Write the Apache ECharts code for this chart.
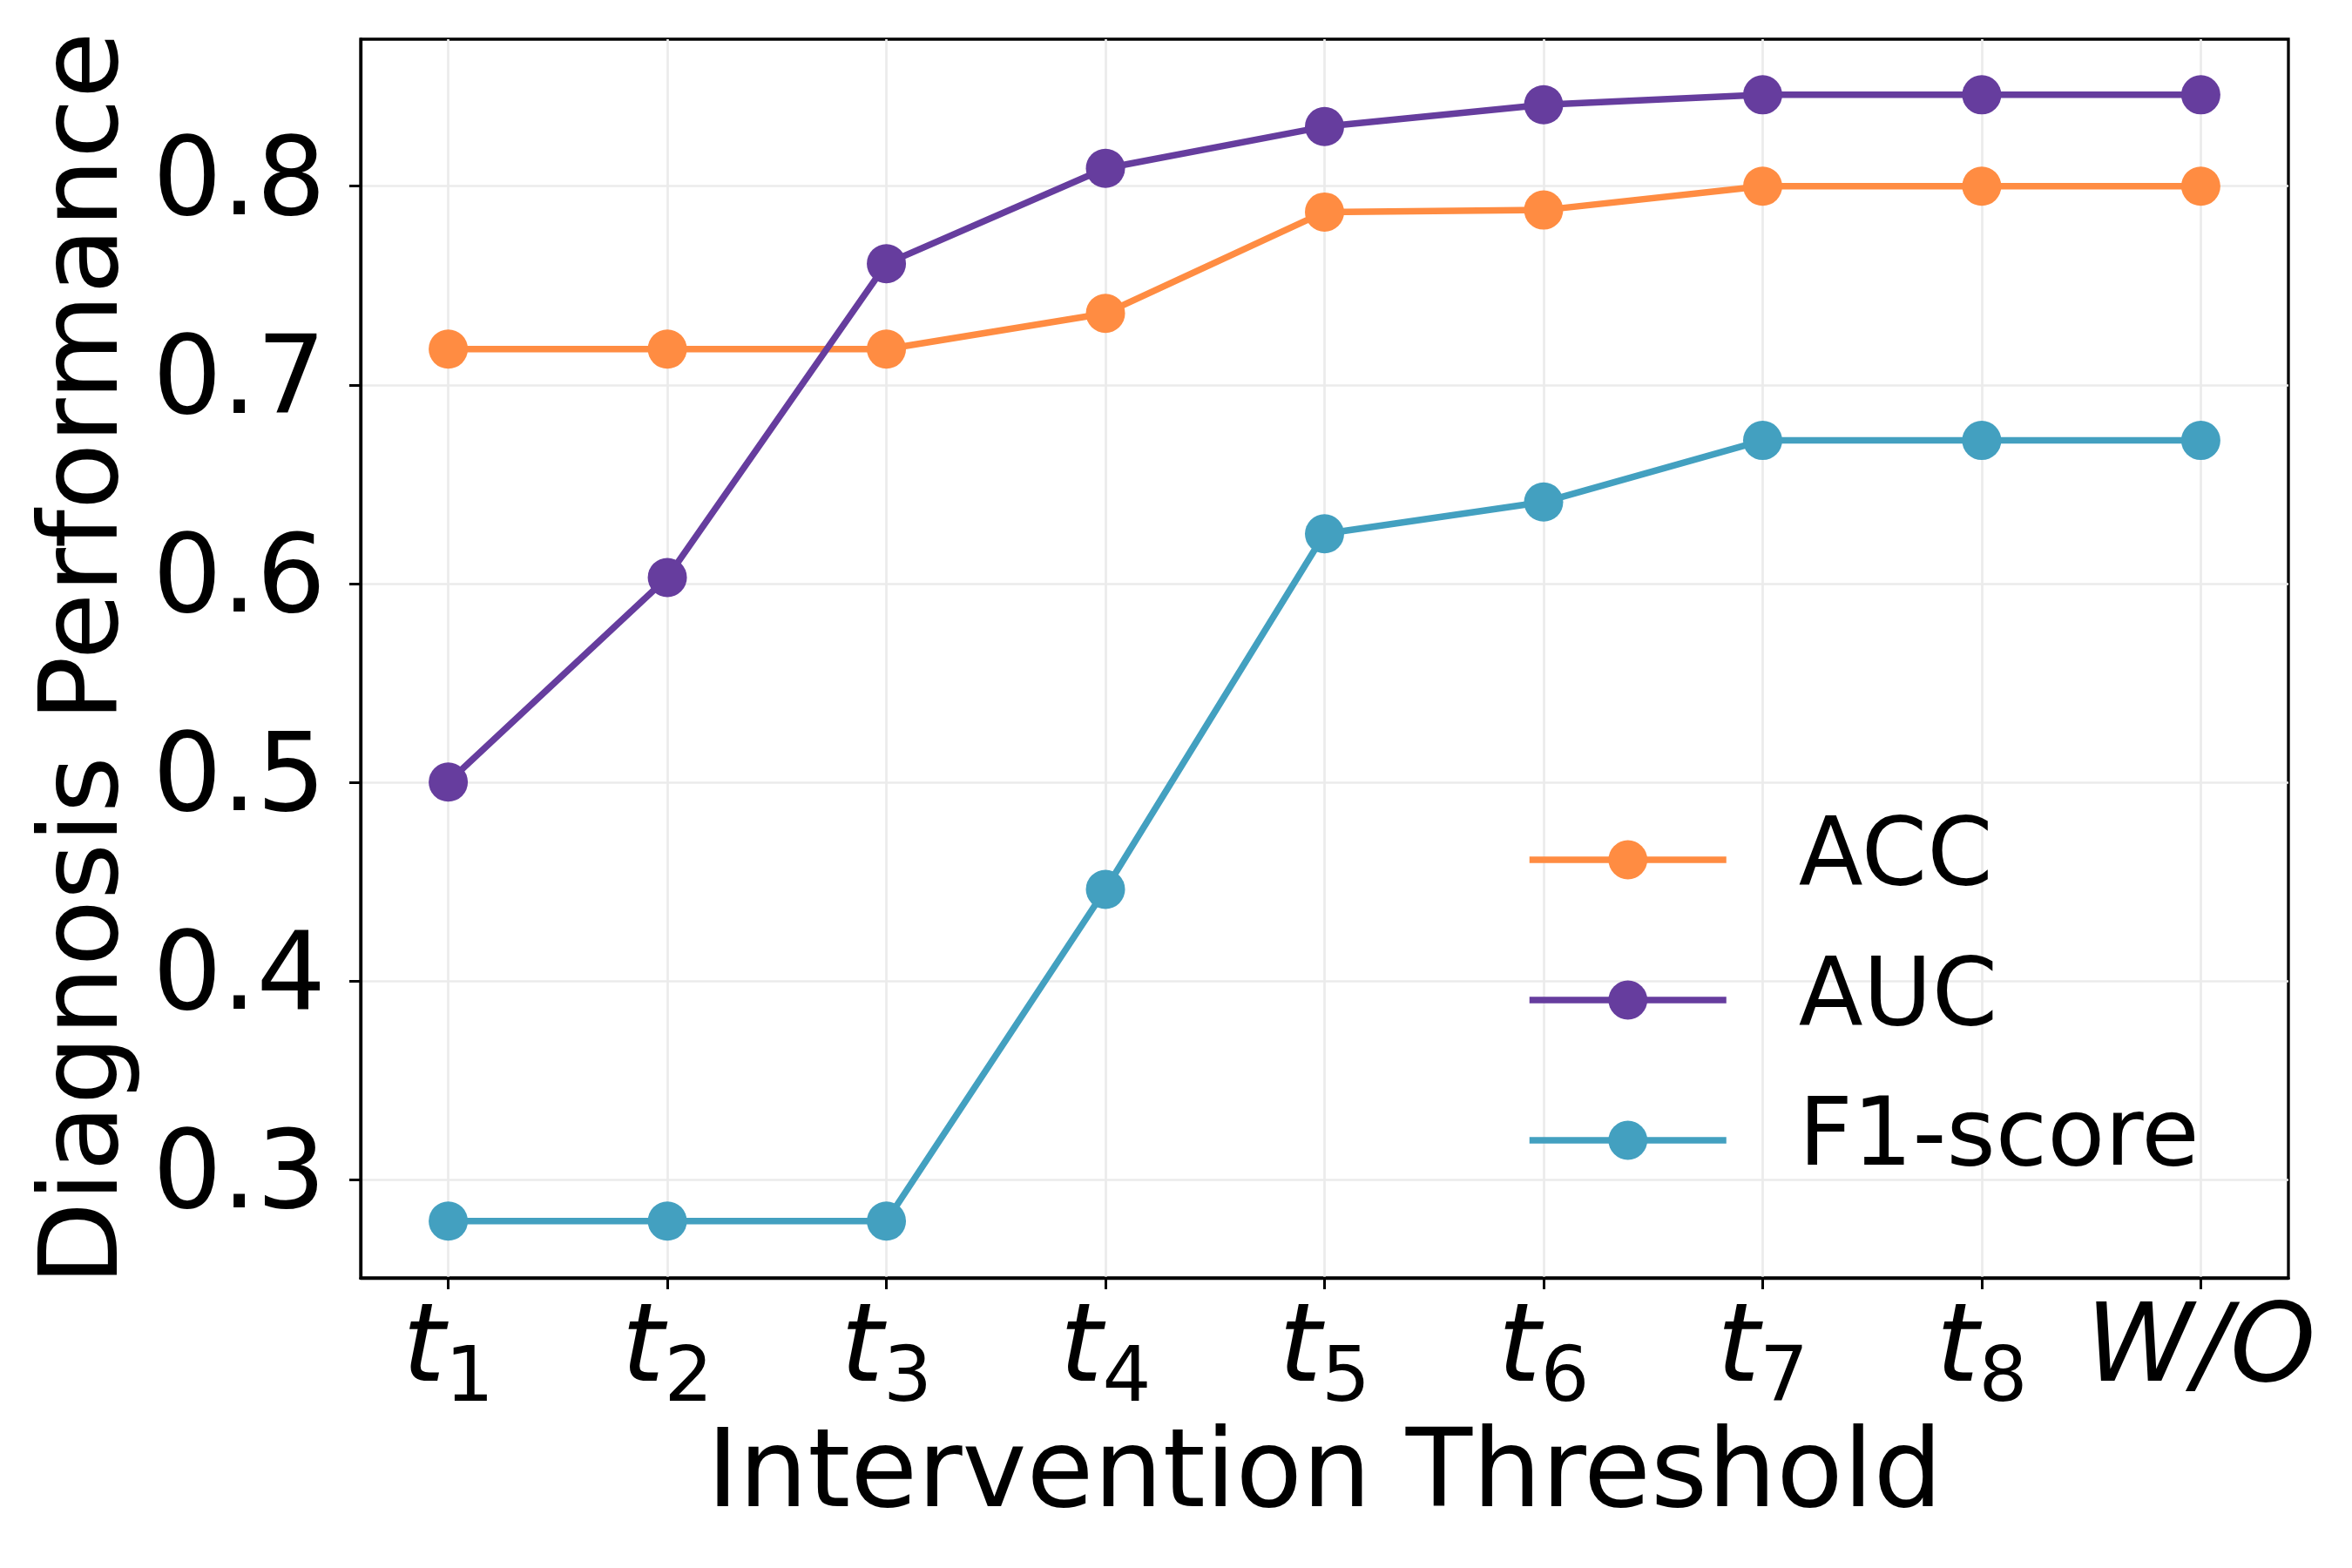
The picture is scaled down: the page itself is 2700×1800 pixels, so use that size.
<!DOCTYPE html>
<html>
<head>
<meta charset="utf-8">
<script src="https://cdn.jsdelivr.net/npm/echarts@6/dist/echarts.min.js"></script>
<style>html,body{margin:0;padding:0;background:#fff}#c{width:2700px;height:1800px}</style>
</head>
<body>
<div id="c"></div>
<script>
const categories = ['t1','t2','t3','t4','t5','t6','t7','t8','W/O'];
const seriesNames = ['ACC','AUC','F1-score'];
const acc = [0.718, 0.718, 0.718, 0.736, 0.787, 0.788, 0.800, 0.800, 0.800];
const auc = [0.500, 0.603, 0.761, 0.809, 0.830, 0.841, 0.846, 0.846, 0.846];
const f1  = [0.279, 0.279, 0.279, 0.446, 0.625, 0.641, 0.672, 0.672, 0.672];
const yTicks = [0.3, 0.4, 0.5, 0.6, 0.7, 0.8];
const colors = ['#FF8C42', '#663D9E', '#43A0C0'];

const FONT = 'DejaVu Sans';
const idx = categories.map((c, i) => i);
function catLabel(v) {
  const i = Math.round(v);
  const c = categories[i];
  if (c === undefined) return '';
  const m = /^t(\d+)$/.exec(c);
  if (m) return '{t|t}{s|' + m[1] + '}';
  return '{w|' + c + '}';
}
function mk(vals, k) {
  return {
    name: seriesNames[k], type: 'line',
    data: vals.map((v, i) => [i, v]),
    symbol: 'circle', symbolSize: 45,
    lineStyle: { width: 7.5, color: colors[k] },
    itemStyle: { color: colors[k] },
    z: 2 + k
  };
}
const chart = echarts.init(document.getElementById('c'), null, { renderer: 'canvas' });
chart.setOption({
  animation: false,
  backgroundColor: '#fff',
  textStyle: { fontFamily: FONT },
  grid: { left: 414, right: 73, top: 45, bottom: 333, show: true, borderColor: '#000', borderWidth: 3.3, containLabel: false },
  legend: {
    data: seriesNames, left: 1752, top: 933, orient: 'vertical', padding: 0,
    itemWidth: 226, itemHeight: 56, itemGap: 53,
    selectedMode: false,
    lineStyle: { width: 7.5 },
    textStyle: { fontFamily: FONT, fontSize: 108, color: '#000', padding: [0, 0, 0, 78] }
  },
  xAxis: {
    type: 'value', min: -0.4, max: 8.4, splitNumber: 9,
    name: 'Intervention Threshold', nameLocation: 'middle', nameGap: 155,
    nameTextStyle: { fontFamily: FONT, fontSize: 125, color: '#000' },
    axisLine: { show: true, onZero: false, lineStyle: { color: '#000', width: 3.3 } },
    axisTick: { show: true, length: 13, customValues: idx, lineStyle: { color: '#000', width: 3 } },
    axisLabel: {
      show: true, margin: 37, customValues: idx, formatter: catLabel, color: '#000',
      rich: {
        t: { fontFamily: FONT, fontStyle: 'italic', fontSize: 125, lineHeight: 125, verticalAlign: 'bottom', padding: [0, 0, 14, 0], color: '#000' },
        s: { fontFamily: FONT, fontSize: 88, lineHeight: 60, verticalAlign: 'bottom', color: '#000' },
        w: { fontFamily: FONT, fontStyle: 'italic', fontSize: 125, lineHeight: 125, verticalAlign: 'bottom', padding: [0, 0, 14, 0], color: '#000' }
      }
    },
    splitLine: { show: true, lineStyle: { color: '#ebebeb', width: 2.7 } }
  },
  yAxis: {
    type: 'value', min: 0.2504, max: 0.874,
    name: 'Diagnosis Performance', nameLocation: 'middle', nameGap: 248, nameRotate: 90,
    nameTextStyle: { fontFamily: FONT, fontSize: 125, color: '#000' },
    axisLine: { show: true, onZero: false, lineStyle: { color: '#000', width: 3.3 } },
    axisTick: { show: true, length: 13, customValues: yTicks, lineStyle: { color: '#000', width: 3 } },
    axisLabel: { show: true, margin: 40, customValues: yTicks, fontFamily: FONT, fontSize: 125, color: '#000', formatter: v => v.toFixed(1) },
    splitLine: { show: true, lineStyle: { color: '#ebebeb', width: 2.7 } }
  },
  series: [mk(acc, 0), mk(auc, 1), mk(f1, 2)]
});
</script>
</body>
</html>
